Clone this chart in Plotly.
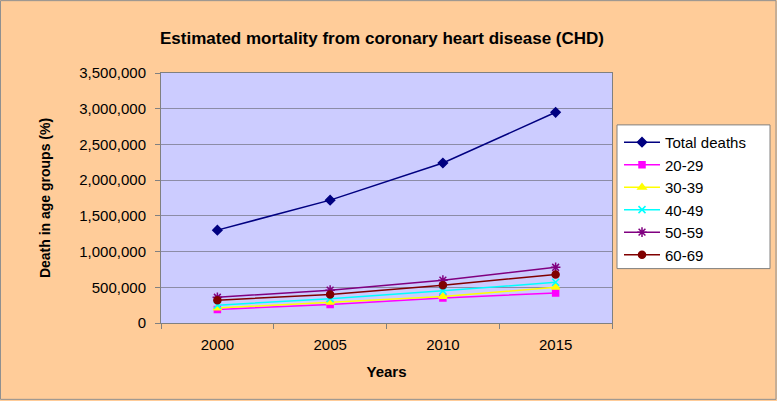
import plotly.graph_objects as go

years = ["2000", "2005", "2010", "2015"]
total_deaths = [1300000, 1720000, 2240000, 2950000]
age_20_29 = [190000, 260000, 350000, 420000]
age_30_39 = [210000, 290000, 370000, 500000]
age_40_49 = [250000, 340000, 450000, 570000]
age_50_59 = [360000, 460000, 600000, 780000]
age_60_69 = [320000, 400000, 530000, 680000]

series = [
    ("Total deaths", total_deaths, "#000080", "diamond", 7),
    ("20-29", age_20_29, "#FF00FF", "square", 6),
    ("30-39", age_30_39, "#FFFF00", "triangle-up", 7),
    ("40-49", age_40_49, "#00FFFF", "x-thin-open", 7),
    ("50-59", age_50_59, "#800080", "asterisk-open", 8),
    ("60-69", age_60_69, "#800000", "circle", 7),
]

fig = go.Figure()
for name, vals, color, sym, size in series:
    fig.add_trace(go.Scatter(
        x=years, y=vals, name=name, mode="lines+markers",
        line=dict(color=color, width=1.5),
        marker=dict(symbol=sym, size=size, color=color,
                    line=dict(color=color, width=1.5)),
    ))

PW, PH = 451, 250.5
def px(x):
    return (x - 161) / PW
def py(y):
    return (323.5 - y) / PH

font_family = "Liberation Sans, Arial, sans-serif"
fig.update_layout(
    width=777, height=401,
    margin=dict(l=161, r=165, t=73, b=77.5, autoexpand=False),
    paper_bgcolor="#FFCC99",
    plot_bgcolor="#CCCCFF",
    font=dict(family=font_family, size=15, color="#000000"),
    title=dict(text="<b>Estimated mortality from coronary heart disease (CHD)</b>",
               x=0.49, xref="paper", xanchor="center",
               y=1 - 38 / 401, yref="container", yanchor="middle",
               font=dict(size=17, family=font_family)),
    showlegend=True,
    legend=dict(x=px(619), y=py(126),
                xanchor="left", yanchor="top",
                bgcolor="rgba(0,0,0,0)", borderwidth=0, itemwidth=36,
                font=dict(size=15, family=font_family)),
    xaxis=dict(
        type="category", range=[-0.5, 3.5], automargin=False,
        showline=True, linecolor="#808080", linewidth=1, mirror=True,
        ticks="outside", tickson="boundaries", ticklen=5, tickcolor="#808080",
        showgrid=False, tickfont=dict(size=15), ticklabelstandoff=8,
        title=dict(text="<b>Years</b>", font=dict(size=15), standoff=14),
    ),
    yaxis=dict(
        range=[0, 3500000], dtick=500000, tickformat=",", automargin=False,
        showline=True, linecolor="#808080", linewidth=1, mirror=True,
        ticks="outside", ticklen=5, tickcolor="#808080",
        showgrid=True, gridcolor="#8C8CA6", gridwidth=1,
        zeroline=False, tickfont=dict(size=15), ticklabelstandoff=6,
        title=dict(text="<b>Death in age groups (%)</b>", font=dict(size=14), standoff=25),
    ),
    shapes=[
        dict(type="rect", xref="paper", yref="paper",
             x0=px(0.5), x1=px(776), y0=py(400), y1=py(0.5),
             line=dict(color="#909090", width=1), fillcolor="rgba(0,0,0,0)",
             layer="below"),
        dict(type="rect", xref="paper", yref="paper",
             x0=px(617), x1=px(770), y0=py(269), y1=py(125),
             line=dict(color="#808080", width=1), fillcolor="#FFFFFF",
             layer="below"),
    ],
)

fig.write_html("out.html",
               config={"displayModeBar": False},
               post_script="document.body.style.margin='0';document.body.style.overflow='hidden';")
